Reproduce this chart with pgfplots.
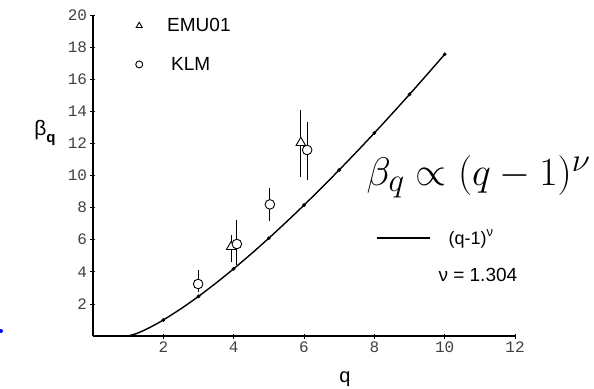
\documentclass[border=0pt]{standalone}
\usepackage{graphicx}
\usepackage{pgfplots}
\pgfplotsset{compat=1.18}
\usepackage{fontspec}
\setmainfont{Liberation Sans}
\newfontfamily\tickfont{Liberation Mono}
\begin{document}
\begin{tikzpicture}
\useasboundingbox (-93pt,-52pt) rectangle (501pt,336pt);
\begin{axis}[
  at={(0pt,0pt)}, anchor=south west,
  scale only axis, width=422pt, height=321pt,
  xmin=0, xmax=12, ymin=0, ymax=20,
  axis lines=left,
  axis line style={-, line width=1.1pt, black},
  xtick={2,4,...,12}, ytick={2,4,...,20},
  tick align=center, major tick length=5pt,
  tick style={line width=0.8pt, black},
  /pgf/number format/assume math mode=true,
  ticklabel style={font=\tickfont\fontsize{16}{16}\selectfont, text=black!75},
  legend style={draw=none, fill=none, at={(axis cs:1.11,20.05)}, anchor=north west,
    font=\fontsize{19}{22}\selectfont, row sep=20pt},
  legend cell align=left,
  legend image code/.code={\path[draw=none] (-4pt,-0.1pt) rectangle (26pt,0.1pt); \draw[#1, mark size=3.5pt, line width=1pt] plot coordinates {(0pt,0pt)};},
  clip=false,
]
\addplot[only marks, mark=triangle*, mark size=5.5pt,
  mark options={fill=white, draw=black, line width=0.9pt},
  error bars/.cd, y dir=both, y explicit,
  error bar style={line width=0.9pt, black}, error mark=none]
  coordinates {
    (3.93,5.56) += (0,0.73) -= (0,0.93)
    (5.91,12.04) += (0,2.04) -= (0,2.15)
  };
\addlegendentry{EMU01}
\addplot[only marks, mark=*, mark size=4.8pt,
  mark options={fill=white, draw=black, line width=0.9pt},
  error bars/.cd, y dir=both, y explicit,
  error bar style={line width=0.9pt, black}, error mark=none]
  coordinates {
    (2.99,3.24) += (0,0.87) -= (0,0.50)
    (4.09,5.73) += (0,1.50) -= (0,1.31)
    (5.03,8.20) += (0,1.00) -= (0,1.02)
    (6.09,11.59) += (0,1.76) -= (0,1.87)
  };
\addlegendentry{\hspace{4pt}KLM}
\addplot[black, line width=1.4pt, smooth, forget plot] coordinates {
  (1,0) (1.25,0.164) (1.5,0.405) (1.75,0.687) (2,1) (2.5,1.697) (3,2.469)
  (3.5,3.303) (4,4.189) (4.5,5.122) (5,6.096) (5.5,7.108) (6,8.155)
  (6.5,9.235) (7,10.344) (7.5,11.483) (8,12.647) (8.5,13.838) (9,15.054)
  (9.5,16.292) (10,17.55)
};
\addplot[only marks, mark=*, mark size=1.7pt, black, forget plot] coordinates {
  (2,1) (3,2.469) (4,4.189) (5,6.096) (6,8.155) (7,10.344) (8,12.647) (9,15.054) (10,17.55)
};
\end{axis}
\node at (-48pt,203pt) {\fontsize{21}{24}\selectfont β\raisebox{-0.3em}{\fontsize{15}{15}\selectfont\bfseries q}};
\node at (252pt,-43pt) {\fontsize{20}{22}\selectfont q};
\node[anchor=west] at (270pt,159pt) {\scalebox{1.6}{\Huge $\beta_q \propto (q-1)^\nu$}};
\draw[line width=1.2pt] (284pt,98pt) -- (337pt,98pt);
\node[anchor=west] at (352pt,97pt) {\fontsize{18}{20}\selectfont (q-1)\raisebox{0.45em}{\fontsize{13}{13}\selectfont ν}};
\node[anchor=west] at (342pt,61pt) {\fontsize{19}{22}\selectfont ν = 1.304};
\fill[blue] (-92pt,5pt) circle (2pt);
\end{tikzpicture}
\end{document}
